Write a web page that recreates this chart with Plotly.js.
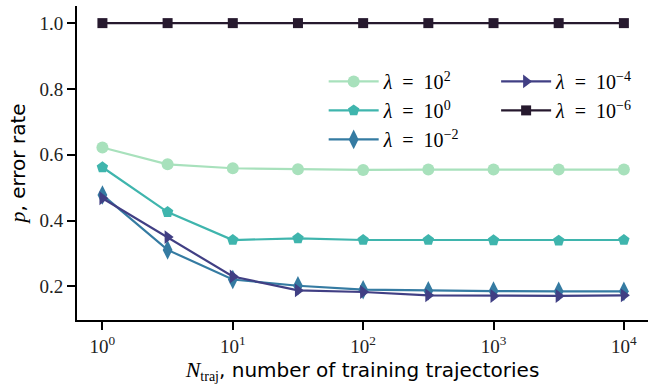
<!DOCTYPE html>
<html>
<head>
<meta charset="utf-8">
<script src="https://cdn.plot.ly/plotly-3.0.1.min.js"></script>
<style>html,body{margin:0;padding:0;background:#fff;}#chart{width:648px;height:390px;}</style>
</head>
<body>
<div id="chart"></div>
<script>
// Number of training trajectories (x)
const nTraj = [1, 3.162, 10, 31.62, 100, 316.2, 1000, 3162, 10000];

// Error rate p for each regularisation strength
const pLam1e2  = [0.622, 0.571, 0.559, 0.556, 0.554, 0.555, 0.555, 0.555, 0.555];
const pLam1e0  = [0.562, 0.426, 0.341, 0.346, 0.341, 0.341, 0.340, 0.339, 0.341];
const pLam1em2 = [0.478, 0.311, 0.221, 0.202, 0.190, 0.187, 0.186, 0.185, 0.185];
const pLam1em4 = [0.468, 0.350, 0.230, 0.188, 0.183, 0.173, 0.171, 0.171, 0.173];
const pLam1em6 = [1.0, 1.0, 1.0, 1.0, 1.0, 1.0, 1.0, 1.0, 1.0];

const seriesNames = [
  "<i>λ</i>\u2002=\u200210<sup>2</sup>",
  "<i>λ</i>\u2002=\u200210<sup>0</sup>",
  "<i>λ</i>\u2002=\u200210<sup>−2</sup>",
  "<i>λ</i>\u2002=\u200210<sup>−4</sup>",
  "<i>λ</i>\u2002=\u200210<sup>−6</sup>"
];

// Tick labels
const xTickVals = [1, 10, 100, 1000, 10000];
const xTickText = ["10<sup>0</sup>", "10<sup>1</sup>", "10<sup>2</sup>", "10<sup>3</sup>", "10<sup>4</sup>"];
const yTickVals = [0.2, 0.4, 0.6, 0.8, 1.0];
const yTickText = ["0.2", "0.4", "0.6", "0.8", "1.0"];

const colors = ["#a8e1bc", "#3fb5ad", "#357ba2", "#413f84", "#26192e"];
const symbols = ["circle", "pentagon", "diamond-tall", "triangle-right", "square"];
const sizes = [12, 12, 14, 12, 10];
const legendIds = ["legend", "legend", "legend", "legend2", "legend2"];
const allY = [pLam1e2, pLam1e0, pLam1em2, pLam1em4, pLam1em6];

const traces = allY.map((ys, i) => ({
  x: nTraj, y: ys, name: seriesNames[i], type: "scatter", mode: "lines+markers",
  line: {color: colors[i], width: 2.2},
  marker: {color: colors[i], symbol: symbols[i], size: sizes[i], line: {width: 0}},
  legend: legendIds[i]
}));

const serif = "Liberation Serif, DejaVu Serif, serif";
const sans = "DejaVu Sans, sans-serif";

const legendFont = {family: serif, size: 20, color: "#000"};

const layout = {
  width: 648, height: 390,
  margin: {l: 77, r: 0, t: 6, b: 70},
  paper_bgcolor: "#fff", plot_bgcolor: "#fff",
  showlegend: true,
  xaxis: {
    type: "log", range: [-0.195, 4.185],
    tickvals: xTickVals, ticktext: xTickText,
    showgrid: false, zeroline: false,
    showline: true, linecolor: "#000", linewidth: 2,
    ticks: "outside", ticklen: 8, tickwidth: 2, tickcolor: "#000",
    tickfont: {family: serif, size: 19, color: "#222"},
    title: {text: "<i style=\"font-family:Liberation Serif;font-size:22px\">N</i><sub><span style=\"font-family:Liberation Serif\">traj</span></sub>, number of training trajectories",
            font: {family: sans, size: 20, color: "#000"}, standoff: 6}
  },
  yaxis: {
    range: [0.098, 1.052],
    tickvals: yTickVals, ticktext: yTickText,
    showgrid: false, zeroline: false,
    showline: true, linecolor: "#000", linewidth: 2,
    ticks: "outside", ticklen: 8, tickwidth: 2, tickcolor: "#000",
    tickfont: {family: serif, size: 19, color: "#222"},
    title: {text: "<i style=\"font-family:Liberation Serif;font-size:22px\">p</i>, error rate",
            font: {family: sans, size: 20, color: "#000"}, standoff: 8}
  },
  legend: {
    x: 0.432, y: 0.822, xanchor: "left", yanchor: "top",
    bgcolor: "rgba(255,255,255,0)", font: legendFont,
    itemwidth: 50, tracegroupgap: 0
  },
  legend2: {
    x: 0.734, y: 0.822, xanchor: "left", yanchor: "top",
    bgcolor: "rgba(255,255,255,0)", font: legendFont,
    itemwidth: 50, tracegroupgap: 0
  }
};

Plotly.newPlot("chart", traces, layout, {displayModeBar: false, staticPlot: true});
</script>
</body>
</html>
